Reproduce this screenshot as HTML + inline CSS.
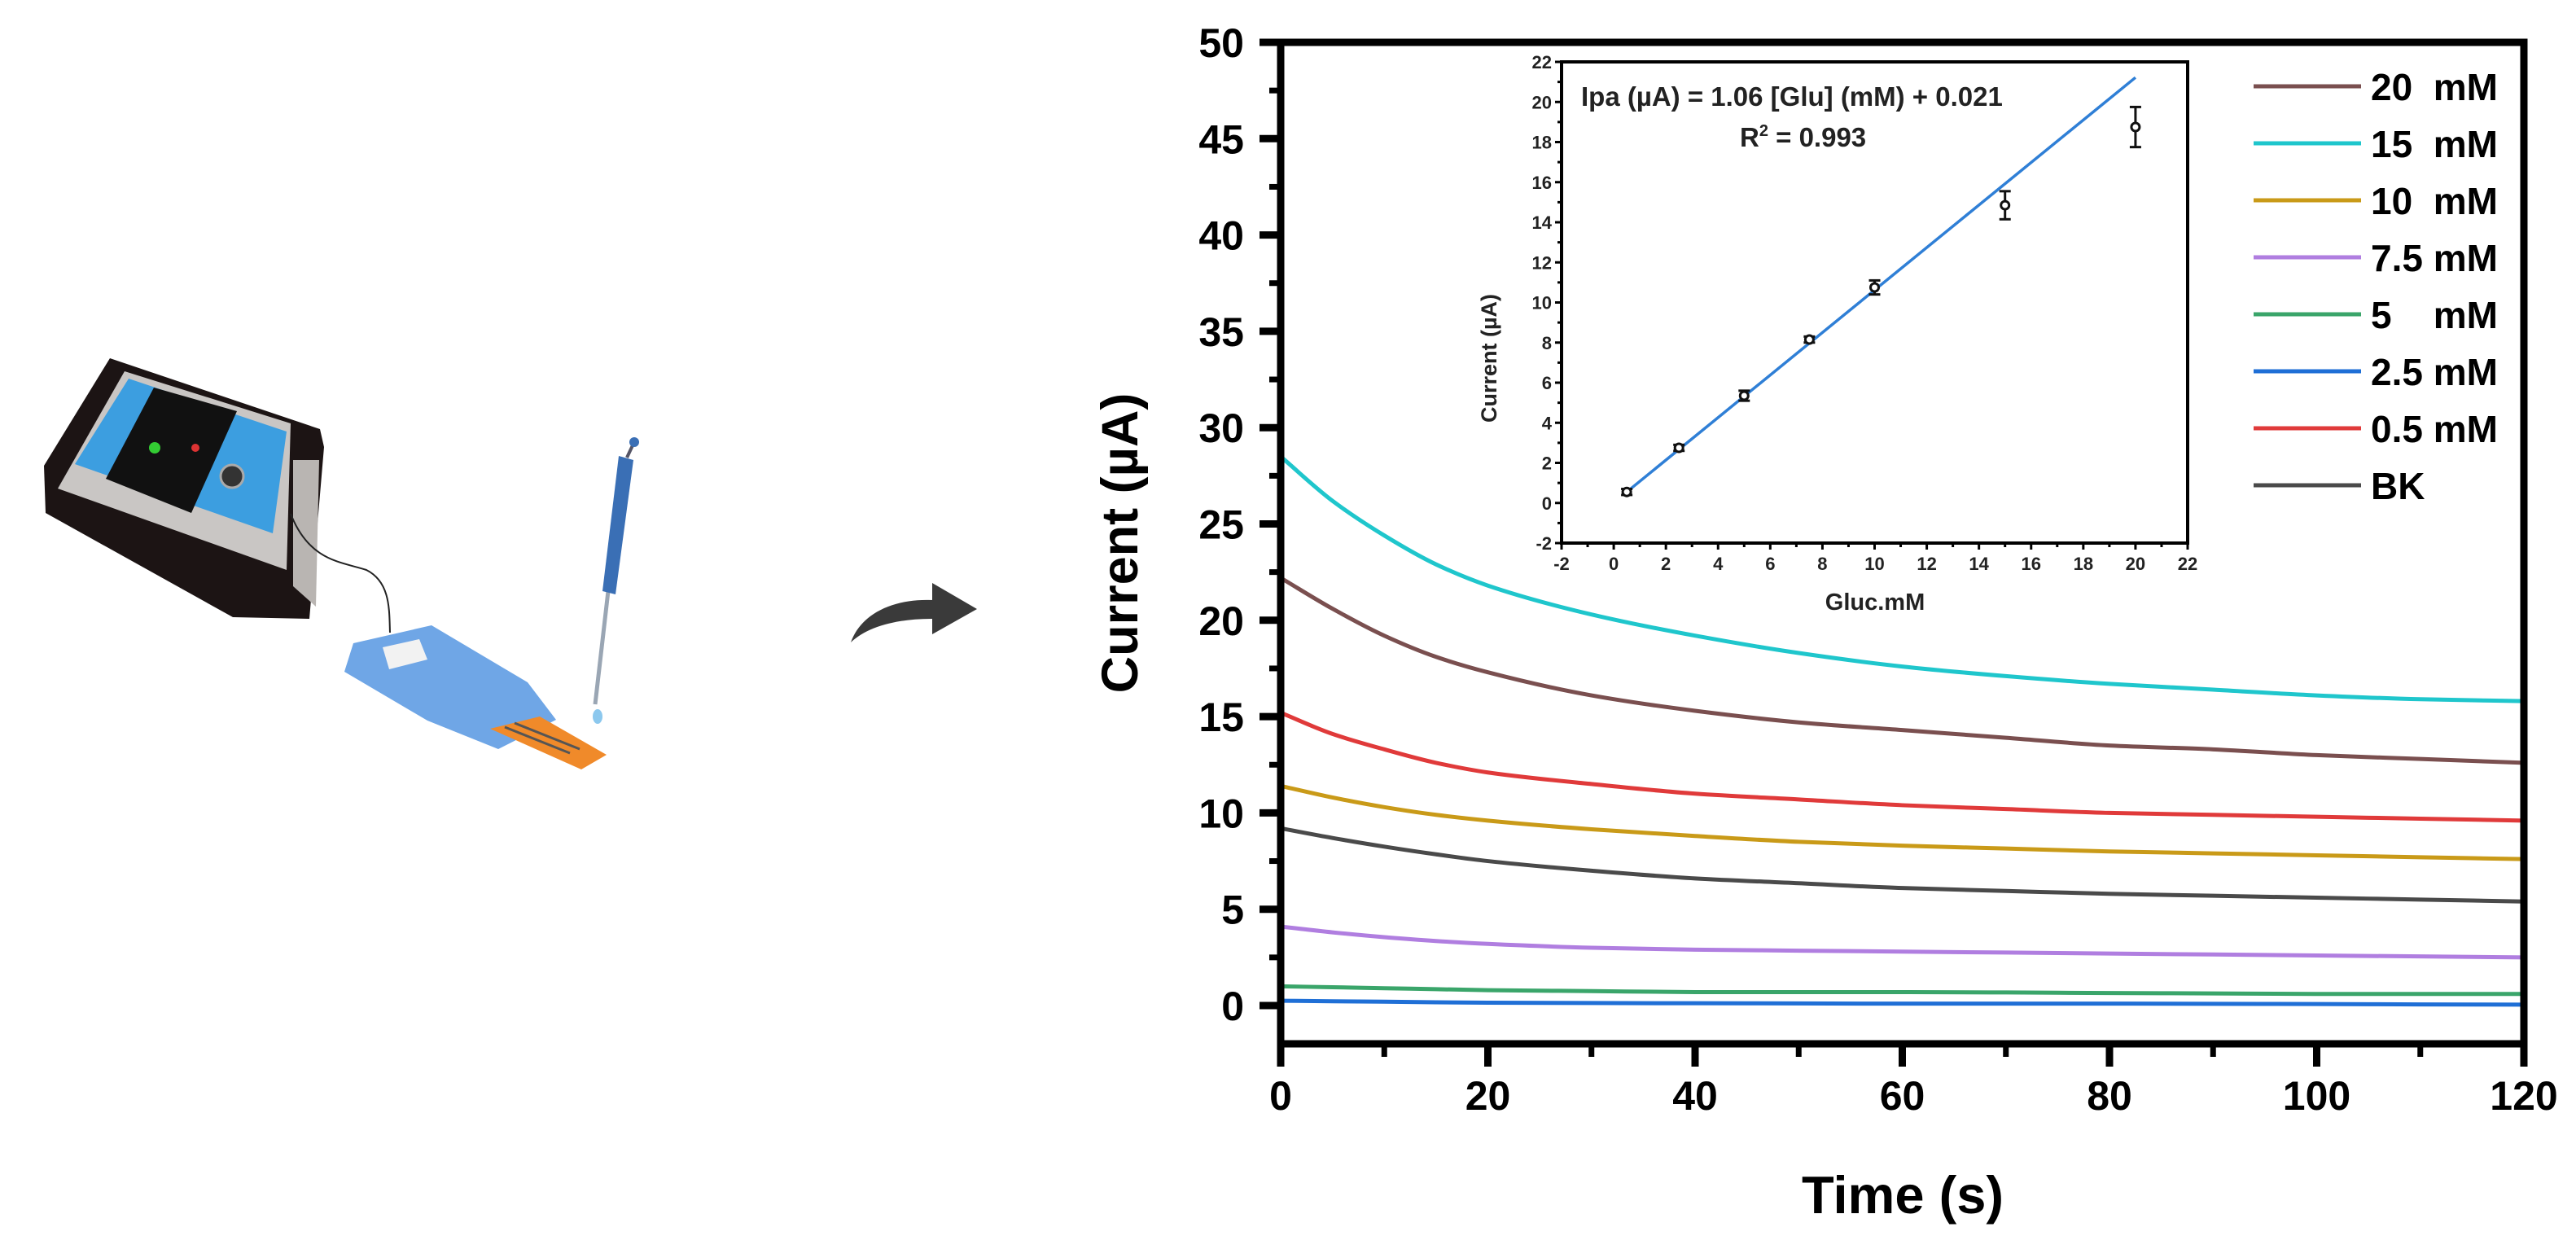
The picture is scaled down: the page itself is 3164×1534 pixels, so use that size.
<!DOCTYPE html>
<html><head><meta charset="utf-8"><style>
html,body{margin:0;padding:0;background:#fff;}
svg{display:block;font-family:"Liberation Sans",Arial,sans-serif;}
.pre{white-space:pre;}
</style></head><body>
<svg id="fig" width="3164" height="1534" viewBox="0 0 3164 1534" xmlns="http://www.w3.org/2000/svg">
<g>
  <polygon points="135,440 393,527 398,549 380,760 286,758 56,630 54,572" fill="#1c1414"/>
  <polygon points="153,456 357,520 352,700 71,600" fill="#c9c6c4"/>
  <polygon points="158,465 352,530 335,655 92,570" fill="#3c9ee0"/>
  <polygon points="189,476 291,505 235,630 130,588" fill="#111"/>
  <circle cx="285" cy="585" r="14" fill="#333" stroke="#aaa" stroke-width="3"/>
  <circle cx="190" cy="550" r="7" fill="#3c3"/>
  <circle cx="240" cy="550" r="5" fill="#d33"/>
  <polygon points="360,565 392,565 388,745 360,720" fill="#b9b5b2"/>
  <path d="M357,631 C380,690 420,690 450,700 C480,715 478,750 479,777" fill="none" stroke="#222" stroke-width="2"/>
  <polygon points="434,790 530,768 648,838 683,884 612,920 525,885 423,825" fill="#6fa6e6"/>
  <polygon points="470,795 515,785 525,810 478,822" fill="#f2f2f2"/>
  <polygon points="602,895 663,880 745,927 714,945" fill="#f08a2a"/>
  <line x1="620" y1="893" x2="700" y2="925" stroke="#555" stroke-width="3"/>
  <line x1="632" y1="888" x2="712" y2="920" stroke="#555" stroke-width="3"/>
  <line x1="750" y1="700" x2="731" y2="865" stroke="#9aa6b4" stroke-width="5"/>
  <polygon points="760,560 778,565 756,730 740,726" fill="#3a6fb5"/>
  <line x1="770" y1="562" x2="778" y2="545" stroke="#556" stroke-width="4"/>
  <circle cx="779" cy="543" r="6" fill="#3a6fb5"/>
  <ellipse cx="734" cy="880" rx="6" ry="9" fill="#8cc8ee"/>
</g>
<path d="M1045,789 C1058,752 1100,735 1145,737 L1145,716 L1200,748 L1145,779 L1145,760 C1100,760 1065,770 1045,789 Z" fill="#3a3a3a"/>
<g id="main"></g>
<g id="inset"></g>
</svg>
<script>
const timeS = [0,5,10,15,20,30,40,50,60,70,80,90,100,110,120];
const seriesNames = ["20  mM","15  mM","10  mM","7.5 mM","5    mM","2.5 mM","0.5 mM","BK"];
const seriesColors = ["#7a4f4f","#1fc6cc","#c99a18","#b07ee0","#3aa56a","#1f6fd6","#e03a3a","#4a4a4a"];
const s20  = [22.2,20.6,19.2,18.1,17.3,16.1,15.3,14.7,14.3,13.9,13.5,13.3,13.0,12.8,12.6];
const s15  = [28.5,26.2,24.4,22.9,21.8,20.3,19.2,18.3,17.6,17.1,16.7,16.4,16.1,15.9,15.8];
const s10  = [11.4,10.8,10.3,9.9,9.6,9.15,8.8,8.5,8.3,8.15,8.0,7.9,7.8,7.7,7.6];
const s7_5 = [4.1,3.8,3.55,3.35,3.2,3.0,2.9,2.85,2.8,2.75,2.7,2.65,2.6,2.55,2.5];
const s5   = [1.0,0.95,0.9,0.85,0.8,0.75,0.7,0.7,0.7,0.68,0.65,0.63,0.6,0.6,0.6];
const s2_5 = [0.25,0.22,0.2,0.17,0.15,0.13,0.12,0.11,0.1,0.1,0.1,0.09,0.08,0.06,0.05];
const s0_5 = [15.2,14.1,13.3,12.6,12.1,11.5,11.0,10.7,10.4,10.2,10.0,9.9,9.8,9.7,9.6];
const sBK  = [9.2,8.7,8.25,7.85,7.5,7.0,6.6,6.35,6.1,5.95,5.8,5.7,5.6,5.5,5.4];
const seriesValues = [s20,s15,s10,s7_5,s5,s2_5,s0_5,sBK];
const yTicks = [0,5,10,15,20,25,30,35,40,45,50];
const xTicks = [0,20,40,60,80,100,120];
const insetX = [0.5,2.5,5,7.5,10,15,20];
const insetY = [0.55,2.75,5.35,8.15,10.75,14.85,18.75];
const insetErr = [0.15,0.15,0.25,0.15,0.35,0.7,1.0];
const fitSlope = 1.06, fitIntercept = 0.021;
const insetXTicks = [-2,0,2,4,6,8,10,12,14,16,18,20,22];
const insetYTicks = [-2,0,2,4,6,8,10,12,14,16,18,20,22];

const NS="http://www.w3.org/2000/svg";
function mk(tag,attrs,parent,text){const e=document.createElementNS(NS,tag);for(const k in attrs)e.setAttribute(k,attrs[k]);if(text!==undefined)e.textContent=text;parent.appendChild(e);return e;}
// monotone cubic (Fritsch-Carlson) for smooth, kink-free curves
function smooth(pts){const n=pts.length;const dx=[],m=[],t=[];for(let i=0;i<n-1;i++){dx.push(pts[i+1][0]-pts[i][0]);m.push((pts[i+1][1]-pts[i][1])/dx[i]);}
  t[0]=m[0];t[n-1]=m[n-2];for(let i=1;i<n-1;i++){if(m[i-1]*m[i]<=0)t[i]=0;else{const w1=2*dx[i]+dx[i-1],w2=dx[i]+2*dx[i-1];t[i]=(w1+w2)/(w1/m[i-1]+w2/m[i]);}}
  let d="M"+pts[0][0]+","+pts[0][1];for(let i=0;i<n-1;i++){const h=dx[i]/3;d+=" C"+(pts[i][0]+h)+","+(pts[i][1]+t[i]*h)+" "+(pts[i+1][0]-h)+","+(pts[i+1][1]-t[i+1]*h)+" "+pts[i+1][0]+","+pts[i+1][1];}return d;}

const L=1573,R=3100,T=52,B=1282,Y0=1235,YPU=(1235-52)/50;
const xs=v=>L+(v-0)*(R-L)/120, ys=v=>Y0-v*YPU;
const g=document.getElementById('main');
for(let i=0;i<seriesValues.length;i++){
  const pts=timeS.map((t,j)=>[xs(t),ys(seriesValues[i][j])]);
  const p=mk('path',{d:smooth(pts),fill:'none',stroke:seriesColors[i],'stroke-width':5},g);
  
  
}
const frame=mk('rect',{x:L,y:T,width:R-L,height:B-T,fill:'none',stroke:'#000','stroke-width':9},g);


for(let v=0;v<=50;v+=2.5){const major=v%5===0;const y=ys(v);mk('line',{x1:L-(major?26:14),x2:L,y1:y,y2:y,stroke:'#000','stroke-width':major?9:7},g);}
for(const v of yTicks){const t=mk('text',{x:1528,y:ys(v)+18,'text-anchor':'end','font-size':50,'font-weight':'bold'},g,String(v));
  
  }
for(let v=0;v<=120;v+=10){const major=v%20===0;const x=xs(v);mk('line',{x1:x,x2:x,y1:B,y2:B+(major?28:16),stroke:'#000','stroke-width':major?9:7},g);}
for(const v of xTicks){const t=mk('text',{x:xs(v),y:1363,'text-anchor':'middle','font-size':50,'font-weight':'bold'},g,String(v));
  
  }
const xt=mk('text',{x:2337,y:1490,'text-anchor':'middle','font-size':65,'font-weight':'bold'},g,'Time (s)');


const yt=mk('text',{x:0,y:0,'text-anchor':'middle','font-size':63,'font-weight':'bold',transform:'translate(1397,667) rotate(-90)'},g,'Current (µA)');


for(let i=0;i<seriesNames.length;i++){
  const y=106+i*70;
  const ln=mk('line',{x1:2768,x2:2900,y1:y,y2:y,stroke:seriesColors[i],'stroke-width':5},g);
  
  
  const tx=mk('text',{x:2912,y:y+17,'font-size':46,'font-weight':'bold','class':'pre'},g,seriesNames[i]);
  
  
}
const gi=document.getElementById('inset');
const IL=1918,IR=2687,IT=76,IB=667;
const ix=v=>IL+(v+2)*(IR-IL)/24, iy=v=>IB-(v+2)*(IB-IT)/24;
const ibg=mk('rect',{x:IL,y:IT,width:IR-IL,height:IB-IT,fill:'#fff',stroke:'#000','stroke-width':4},gi);


for(let v=-2;v<=22;v+=1){const major=v%2===0;mk('line',{x1:IL-(major?8:5),x2:IL,y1:iy(v),y2:iy(v),stroke:'#000','stroke-width':3},gi);mk('line',{x1:ix(v),x2:ix(v),y1:IB,y2:IB+(major?8:5),stroke:'#000','stroke-width':3},gi);}
for(const v of insetYTicks){const t=mk('text',{x:IL-12,y:iy(v)+8,'text-anchor':'end','font-size':22,'font-weight':'bold','fill':'#222'},gi,String(v));
  
  }
for(const v of insetXTicks){const t=mk('text',{x:ix(v),y:IB+33,'text-anchor':'middle','font-size':22,'font-weight':'bold','fill':'#222'},gi,String(v));
  
  }
const fit=mk('line',{x1:ix(insetX[0]),y1:iy(fitSlope*insetX[0]+fitIntercept),x2:ix(insetX[insetX.length-1]),y2:iy(fitSlope*insetX[insetX.length-1]+fitIntercept),stroke:'#2f7fd6','stroke-width':3.5},gi);


for(let i=0;i<insetX.length;i++){
  const x=ix(insetX[i]),y=iy(insetY[i]),e1=iy(insetY[i]+insetErr[i]),e2=iy(insetY[i]-insetErr[i]);
  mk('line',{x1:x,x2:x,y1:e1,y2:e2,stroke:'#111','stroke-width':3},gi);
  mk('line',{x1:x-7,x2:x+7,y1:e1,y2:e1,stroke:'#111','stroke-width':3},gi);
  mk('line',{x1:x-7,x2:x+7,y1:e2,y2:e2,stroke:'#111','stroke-width':3},gi);
  const c=mk('circle',{cx:x,cy:y,r:5,fill:'#fff',stroke:'#111','stroke-width':3},gi);
  
  
}
const eq=mk('text',{x:1942,y:130,'font-size':33,'font-weight':'bold','fill':'#222'},gi,'Ipa (µA) = 1.06 [Glu] (mM) + 0.021');


const r2=mk('text',{x:2137,y:180,'font-size':33,'font-weight':'bold','fill':'#222'},gi);


r2.innerHTML='R<tspan font-size="20" dy="-13">2</tspan><tspan dy="13"> = 0.993</tspan>';
const gx=mk('text',{x:2303,y:749,'text-anchor':'middle','font-size':29,'font-weight':'bold','fill':'#222'},gi,'Gluc.mM');


const gy=mk('text',{x:0,y:0,'text-anchor':'middle','font-size':27,'font-weight':'bold','fill':'#222',transform:'translate(1838,440) rotate(-90)'},gi,'Current (µA)');


</script>
</body></html>
